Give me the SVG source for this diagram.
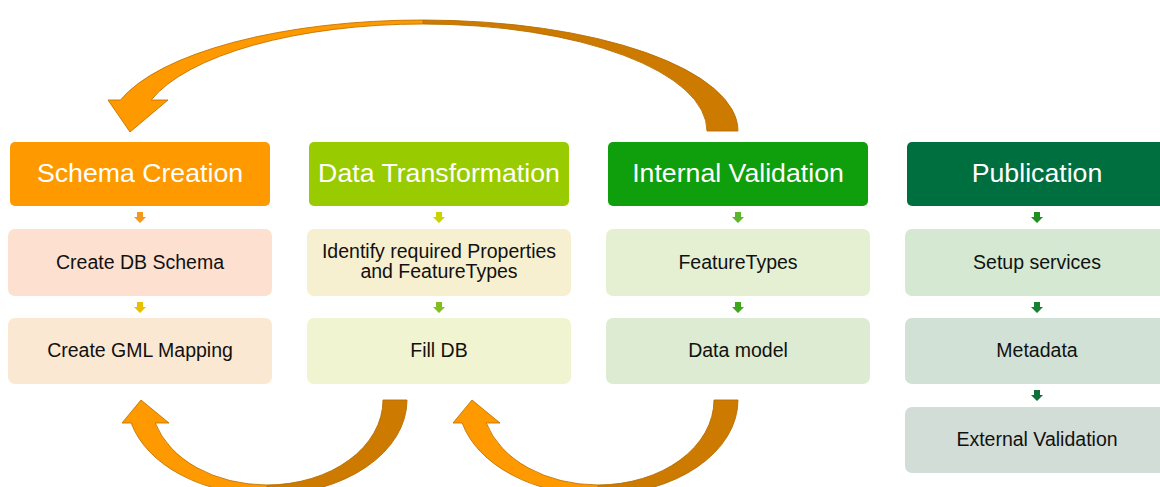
<svg xmlns="http://www.w3.org/2000/svg" width="1160" height="487" viewBox="0 0 1160 487">
<defs>
<style>
.hdr{font-family:"Liberation Sans",Arial,sans-serif;font-size:26.7px;fill:#ffffff;text-anchor:middle}
.sub{font-family:"Liberation Sans",Arial,sans-serif;font-size:19.5px;fill:#111111;text-anchor:middle}
.light{fill:#FF9900;stroke:#C27400;stroke-width:0.9}
.dark{fill:#CC7A00;stroke:#B86E00;stroke-width:0.9}
</style>
<path id="sa" d="M-3,0 H3 V5 H6 L0,11 L-6,5 H-3 Z"/>
<g id="curvUp">
<path class="dark" d="M407,400 A140 95 0 0 1 267,495 L267,485 A116 85 0 0 0 383,400 Z"/>
<path class="light" d="M267,495 A140 95 0 0 1 131.2,423 L122,423 L141,400 L169,423 L155.3,423 A116 85 0 0 0 267,485 Z"/>
</g>
</defs>
<rect width="1160" height="487" fill="#ffffff"/>

<g id="connectors">
<path class="dark" d="M738,131 A315 111 0 0 0 423,20 L423,24 A284 107 0 0 1 707,131 Z"/>
<path class="light" d="M423,20 A315 111 0 0 0 120.5,100 L108,100 L130,132 L168,100 L151.2,100 A284 107 0 0 1 423,24 Z"/>
<use href="#curvUp"/>
<use href="#curvUp" transform="translate(331,0)"/>
<use href="#sa" x="140" y="212" fill="#F39A1E"/>
<use href="#sa" x="140" y="302" fill="#E8C000"/>
<use href="#sa" x="439" y="212" fill="#C8D400"/>
<use href="#sa" x="439" y="302" fill="#82BE1E"/>
<use href="#sa" x="738" y="212" fill="#5CB52A"/>
<use href="#sa" x="738" y="302" fill="#3EA51C"/>
<use href="#sa" x="1037" y="212" fill="#1F8F1F"/>
<use href="#sa" x="1037" y="302" fill="#168030"/>
<use href="#sa" x="1037" y="390" fill="#107038"/>
</g>

<g id="schema-creation">
<rect x="10" y="142" width="260" height="64" rx="5" fill="#FF9900"/>
<text class="hdr" x="140" y="182">Schema Creation</text>
</g>
<g id="create-db-schema">
<rect x="8" y="229" width="264" height="67" rx="7" fill="#FDE0D0"/>
<text class="sub" x="140" y="269">Create DB Schema</text>
</g>
<g id="create-gml-mapping">
<rect x="8" y="318" width="264" height="66" rx="7" fill="#FBE8D2"/>
<text class="sub" x="140" y="357">Create GML Mapping</text>
</g>

<g id="data-transformation">
<rect x="309" y="142" width="260" height="64" rx="5" fill="#99CC00"/>
<text class="hdr" x="439" y="182">Data Transformation</text>
</g>
<g id="identify-properties">
<rect x="307" y="229" width="264" height="67" rx="7" fill="#F6F0D0"/>
<text class="sub" x="439" y="258">Identify required Properties</text>
<text class="sub" x="439" y="278">and FeatureTypes</text>
</g>
<g id="fill-db">
<rect x="307" y="318" width="264" height="66" rx="7" fill="#F1F4D0"/>
<text class="sub" x="439" y="357">Fill DB</text>
</g>

<g id="internal-validation">
<rect x="608" y="142" width="260" height="64" rx="5" fill="#0F9E0C"/>
<text class="hdr" x="738" y="182">Internal Validation</text>
</g>
<g id="featuretypes">
<rect x="606" y="229" width="264" height="67" rx="7" fill="#E5F0D2"/>
<text class="sub" x="738" y="269">FeatureTypes</text>
</g>
<g id="data-model">
<rect x="606" y="318" width="264" height="66" rx="7" fill="#DCEBD1"/>
<text class="sub" x="738" y="357">Data model</text>
</g>

<g id="publication">
<rect x="907" y="142" width="260" height="64" rx="5" fill="#006F3F"/>
<text class="hdr" x="1037" y="182">Publication</text>
</g>
<g id="setup-services">
<rect x="905" y="229" width="264" height="67" rx="7" fill="#D5E8D2"/>
<text class="sub" x="1037" y="269">Setup services</text>
</g>
<g id="metadata">
<rect x="905" y="318" width="264" height="66" rx="7" fill="#D1E1D5"/>
<text class="sub" x="1037" y="357">Metadata</text>
</g>
<g id="external-validation">
<rect x="905" y="407" width="264" height="66" rx="7" fill="#D1DDD6"/>
<text class="sub" x="1037" y="446">External Validation</text>
</g>
</svg>
